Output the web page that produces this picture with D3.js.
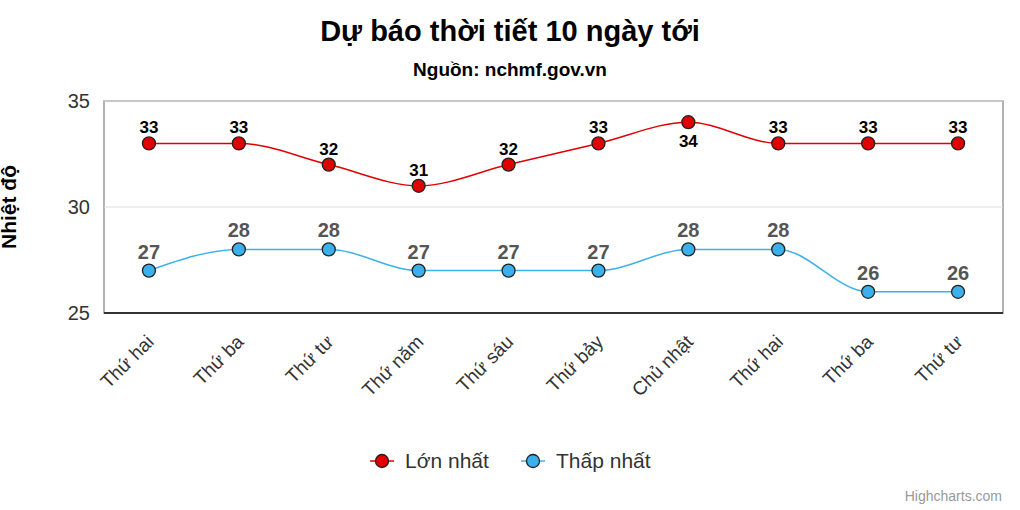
<!DOCTYPE html>
<html>
<head>
<meta charset="utf-8">
<script src="https://d3js.org/d3.v7.min.js"></script>
<style>
  * { margin:0; padding:0; }
  body { background:#fff; font-family: "Liberation Sans", Arial, sans-serif; }
</style>
</head>
<body>
<div id="chart"></div>
<script>
const days = ["Thứ hai","Thứ ba","Thứ tư","Thứ năm","Thứ sáu","Thứ bảy","Chủ nhật","Thứ hai","Thứ ba","Thứ tư"];
const maxTemp = [33,33,32,31,32,33,34,33,33,33];
const minTemp = [27,28,28,27,27,27,28,28,26,26];
const yTicks = [25,30,35];

const width = 1020, height = 510;
const plotLeft = 104, plotRight = 1003, plotTop = 101, plotBottom = 313;

const svg = d3.select("#chart").append("svg").attr("width", width).attr("height", height);

const x = d3.scaleBand().domain(d3.range(days.length)).range([plotLeft, plotRight]);
const y = d3.scaleLinear().domain([25,35]).range([plotBottom, plotTop]);
const cx = i => x(i) + x.bandwidth()/2;

// title
svg.append("text").attr("x", 510).attr("y", 41).attr("text-anchor","middle")
  .style("font-size","29px").style("font-weight","bold").attr("fill","#000").text("Dự báo thời tiết 10 ngày tới");
svg.append("text").attr("x", 510).attr("y", 76).attr("text-anchor","middle")
  .style("font-size","19px").style("font-weight","bold").attr("fill","#000").text("Nguồn: nchmf.gov.vn");

// plot frame
svg.append("rect").attr("x", plotLeft).attr("y", plotTop).attr("width", plotRight-plotLeft).attr("height", plotBottom-plotTop)
  .attr("fill","none").attr("stroke","#999").attr("stroke-width",1.5);

// grid
svg.selectAll(".grid").data(yTicks).enter().append("line")
  .attr("x1", plotLeft).attr("x2", plotRight).attr("y1", d=>y(d)).attr("y2", d=>y(d))
  .attr("stroke","#ddd");

// y labels
svg.selectAll(".yl").data(yTicks).enter().append("text")
  .attr("x", plotLeft-14).attr("y", d=>y(d)+7).attr("text-anchor","end")
  .style("font-size","20px").attr("fill","#333").text(d=>d);

svg.append("text").attr("transform","translate(16,207) rotate(-90)").attr("text-anchor","middle")
  .style("font-size","21px").style("font-weight","bold").attr("fill","#000").text("Nhiệt độ");

// x axis
svg.append("line").attr("x1", plotLeft).attr("x2", plotRight).attr("y1", plotBottom).attr("y2", plotBottom)
  .attr("stroke","#000").attr("stroke-width",1.5);
svg.selectAll(".xl").data(days).enter().append("text")
  .attr("transform",(d,i)=>`translate(${cx(i)+6},${plotBottom+30}) rotate(-45)`)
  .attr("text-anchor","end").style("font-size","19px").attr("fill","#333").text(d=>d);

const line = d3.line().x((d,i)=>cx(i)).y(d=>y(d)).curve(d3.curveMonotoneX);

function series(data, color, labelColor, labelSize, labelPos) {
  svg.append("path").attr("d", line(data)).attr("fill","none").attr("stroke",color).attr("stroke-width",1.5);
  svg.selectAll(null).data(data).enter().append("circle")
    .attr("cx",(d,i)=>cx(i)).attr("cy",d=>y(d)).attr("r",6.5)
    .attr("fill",color).attr("stroke","#222").attr("stroke-width",1.3);
  svg.selectAll(null).data(data).enter().append("text")
    .attr("x",(d,i)=>cx(i)).attr("y",(d,i)=>labelPos(d,i)).attr("text-anchor","middle")
    .style("font-size",labelSize).style("font-weight","bold").attr("fill",labelColor).text(d=>d);
}
series(maxTemp, "#e00000", "#000", "17px", (d,i)=> d===d3.max(maxTemp) ? y(d)+25 : y(d)-10);
series(minTemp, "#3cb0ea", "#555", "20px", d=> y(d)-12);

// legend
const legend = [{n:"Lớn nhất", c:"#e00000", x:370},{n:"Thấp nhất", c:"#3cb0ea", x:521}];
legend.forEach(l=>{
  svg.append("line").attr("x1",l.x).attr("x2",l.x+24).attr("y1",461).attr("y2",461).attr("stroke",l.c).attr("stroke-width",1.5);
  svg.append("circle").attr("cx",l.x+12).attr("cy",461).attr("r",6.5).attr("fill",l.c).attr("stroke","#222").attr("stroke-width",1.3);
  svg.append("text").attr("x",l.x+35).attr("y",468).style("font-size","21px").attr("fill","#333").text(l.n);
});

svg.append("text").attr("x",1002).attr("y",501).attr("text-anchor","end")
  .style("font-size","14px").attr("fill","#999").text("Highcharts.com");
</script>
</body>
</html>
